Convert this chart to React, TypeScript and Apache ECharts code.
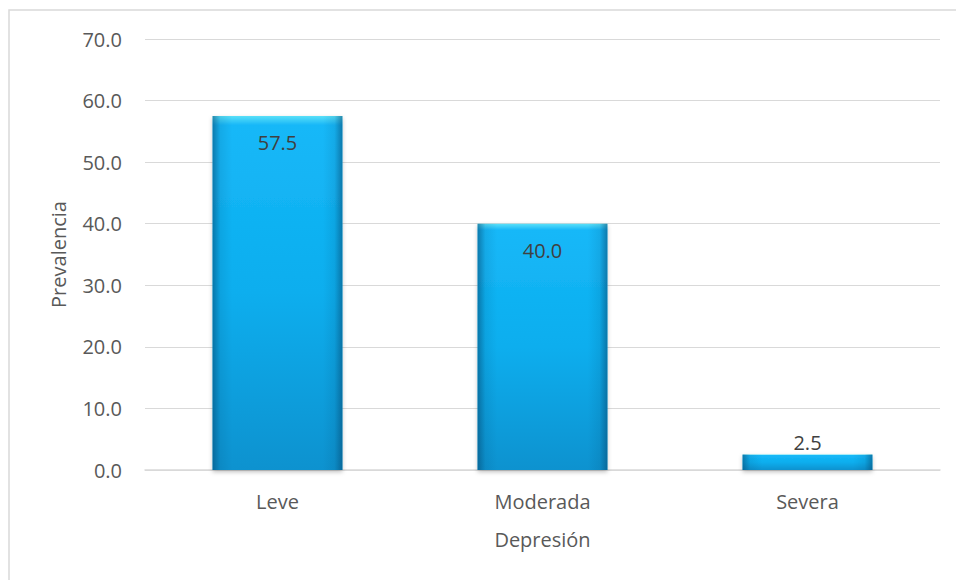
import React, { useEffect, useRef } from "react";
import * as echarts from "echarts";

const categories = ["Leve", "Moderada", "Severa"];
const prevalence = [57.5, 40.0, 2.5];
const labelPositions = ["insideTop", "insideTop", "top"];
const labelDistances = [17, 17, 2];
const yTicks = { min: 0, max: 70, interval: 10 };

const FONT = "'Open Sans', 'Noto Sans', sans-serif";

export default function App() {
  const ref = useRef<HTMLDivElement>(null);
  useEffect(() => {
    const chart = echarts.init(ref.current!, null, { renderer: "svg" });
    const mainColor = new echarts.graphic.LinearGradient(0, 0, 0, 1, [
      { offset: 0, color: "#5ae0f8" },
      { offset: 0.025, color: "#18b8f8" },
      { offset: 0.5, color: "#0aaeee" },
      { offset: 1, color: "#0a92cf" },
    ]);
    const edgeColor = new echarts.graphic.LinearGradient(1, 0, 0, 0, [
      { offset: 0, color: "rgba(4,70,110,0.55)" },
      { offset: 0.06, color: "rgba(4,70,110,0.12)" },
      { offset: 0.15, color: "rgba(4,70,110,0)" },
      { offset: 0.85, color: "rgba(4,70,110,0)" },
      { offset: 0.94, color: "rgba(4,70,110,0.12)" },
      { offset: 1, color: "rgba(4,70,110,0.55)" },
    ]);
    chart.setOption({
      animation: false,
      backgroundColor: "#ffffff",
      textStyle: { fontFamily: FONT },
      graphic: [
        {
          type: "rect",
          shape: { x: 9, y: 10, width: 1200, height: 800 },
          style: { fill: "none", stroke: "#d9d9d9", lineWidth: 1.5 },
          silent: true,
          z: -10,
        },
      ],
      grid: { left: 145, right: 16, top: 39, bottom: 110 },
      xAxis: {
        type: "category",
        data: categories,
        name: "Depresión",
        nameLocation: "middle",
        nameGap: 59,
        nameTextStyle: { fontSize: 20, color: "#595959", fontFamily: FONT },
        axisLine: { lineStyle: { color: "#d9d9d9", width: 1.5 } },
        axisTick: { show: false },
        axisLabel: { fontSize: 20, color: "#595959", margin: 21, fontFamily: FONT },
      },
      yAxis: {
        type: "value",
        min: yTicks.min,
        max: yTicks.max,
        interval: yTicks.interval,
        name: "Prevalencia",
        nameLocation: "middle",
        nameGap: 77,
        nameTextStyle: { fontSize: 20, color: "#595959", fontFamily: FONT },
        axisLine: { show: false },
        axisTick: { show: false },
        splitLine: { lineStyle: { color: "#d9d9d9", width: 1.2 } },
        axisLabel: {
          fontSize: 20,
          color: "#595959",
          margin: 23,
          fontFamily: FONT,
          formatter: (v: number) => v.toFixed(1),
        },
      },
      series: [
        {
          type: "bar",
          barWidth: "49%",
          data: prevalence.map((v, i) => ({
            value: v,
            label: { position: labelPositions[i], distance: labelDistances[i] },
          })),
          itemStyle: {
            color: mainColor,
            shadowColor: "rgba(0,0,0,0.25)",
            shadowBlur: 4,
            shadowOffsetY: 2,
          },
          label: {
            show: true,
            fontSize: 20,
            color: "#404040",
            fontFamily: FONT,
            formatter: (p: any) => Number(p.value).toFixed(1),
          },
          z: 2,
        },
        {
          type: "bar",
          barWidth: "49%",
          barGap: "-100%",
          data: prevalence,
          itemStyle: { color: edgeColor },
          silent: true,
          z: 3,
        },
      ],
    });
    return () => chart.dispose();
  }, []);
  return (
    <div
      ref={ref}
      style={{ position: "fixed", left: 0, top: 0, width: 956, height: 580 }}
    />
  );
}
